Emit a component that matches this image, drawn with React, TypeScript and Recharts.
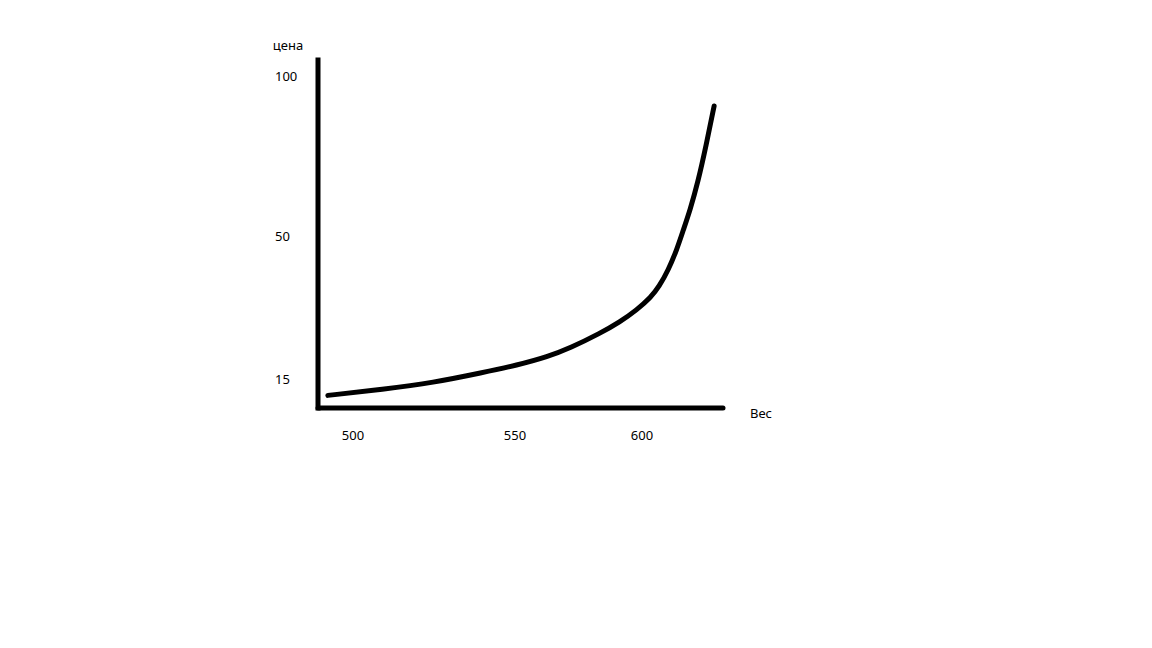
import React from 'react';
import { LineChart, Line, XAxis, YAxis } from 'recharts';

// Tick labels as written on the sketch
const xTicks = [500, 550, 600];
const yTicks = [15, 50, 100];

// Curve (weight -> price)
const weights = [492.1, 509.3, 524.7, 540.1, 550.8, 563.0, 571.7, 583.5, 591.3, 597.9, 603.6, 606.7, 610.4, 613.7, 616.3, 619.0, 622.1, 625.3, 628.5];
const prices = [11.1, 12.6, 14.2, 16.7, 18.5, 20.6, 22.7, 26.3, 29.1, 32.0, 35.2, 37.7, 41.8, 46.7, 52.0, 58.3, 67.0, 78.3, 90.8];

const data = weights.map((w, i) => ({ w, p: prices[i] }));

// The hand-drawn axes are not evenly spaced: piecewise-linear "sketch" scales.
const xKnots = [489, 500, 550, 600, 632];
const xKnotFractions = [0, 0.0864, 0.4864, 0.8, 1];
const yKnots = [8, 15, 50, 100, 105];
const yKnotFractions = [0, 0.0819, 0.4928, 0.9526, 1];

function makeSketchScale(knots: number[], fractions: number[]) {
  const create = (dom: number[], rng: number[]): any => {
    let d = dom.slice();
    let r = rng.slice();
    const s: any = (v: number) => {
      const n = knots.length;
      let i = 0;
      if (v >= knots[n - 1]) i = n - 2;
      else {
        while (i < n - 2 && v > knots[i + 1]) i++;
      }
      const v0 = knots[i];
      const v1 = knots[i + 1];
      const f = fractions[i] + ((v - v0) / (v1 - v0)) * (fractions[i + 1] - fractions[i]);
      return r[0] + f * (r[1] - r[0]);
    };
    s.domain = (nd?: number[]) => {
      if (nd === undefined) return d.slice();
      d = nd.slice();
      return s;
    };
    s.range = (nr?: number[]) => {
      if (nr === undefined) return r.slice();
      r = nr.slice();
      return s;
    };
    s.copy = () => create(d, r);
    s.ticks = () => knots.slice(1, -1);
    s.invert = (px: number) => {
      const f = (px - r[0]) / (r[1] - r[0]);
      let i = 0;
      while (i < fractions.length - 2 && f > fractions[i + 1]) i++;
      return knots[i] + ((f - fractions[i]) / (fractions[i + 1] - fractions[i])) * (knots[i + 1] - knots[i]);
    };
    return s;
  };
  return create([knots[0], knots[knots.length - 1]], [0, 1]);
}

const xScale = makeSketchScale(xKnots, xKnotFractions);
const yScale = makeSketchScale(yKnots, yKnotFractions);

const font = '"Noto Sans", sans-serif';

export default function App() {
  return (
    <div style={{ position: 'absolute', left: 0, top: 0, width: 1152, height: 648, background: '#fff' }}>
      <LineChart
        width={1152}
        height={648}
        data={data}
        margin={{ top: 60, right: 429, bottom: 230, left: 258 }}
        style={{ fontFamily: font }}
      >
        <XAxis
          dataKey="w"
          type="number"
          scale={xScale}
          domain={[xKnots[0], xKnots[xKnots.length - 1]]}
          ticks={xTicks}
          height={10}
          tickLine={false}
          tickSize={0}
          tickMargin={23}
          stroke="#000"
          axisLine={{ stroke: '#000', strokeWidth: 5, strokeLinecap: 'round' }}
          tick={{ fill: '#000', fontSize: 13, fontFamily: font }}
          interval={0}
          label={{ value: 'Вес', position: 'right', offset: 27, fill: '#000', fontSize: 13, fontFamily: font }}
        />
        <YAxis
          dataKey="p"
          type="number"
          scale={yScale}
          domain={[yKnots[0], yKnots[yKnots.length - 1]]}
          ticks={yTicks}
          width={60}
          tickLine={false}
          tickSize={0}
          tickMargin={43}
          stroke="#000"
          axisLine={{ stroke: '#000', strokeWidth: 5, strokeLinecap: 'square' }}
          tick={{ fill: '#000', fontSize: 13, fontFamily: font, textAnchor: 'start' }}
          interval={0}
          label={{ value: 'цена', position: 'top', offset: 10, fill: '#000', fontSize: 13, fontFamily: font }}
        />
        <Line
          type="basis"
          dataKey="p"
          stroke="#000"
          strokeWidth={5}
          strokeLinecap="round"
          dot={false}
          activeDot={false}
          isAnimationActive={false}
        />
      </LineChart>
    </div>
  );
}
